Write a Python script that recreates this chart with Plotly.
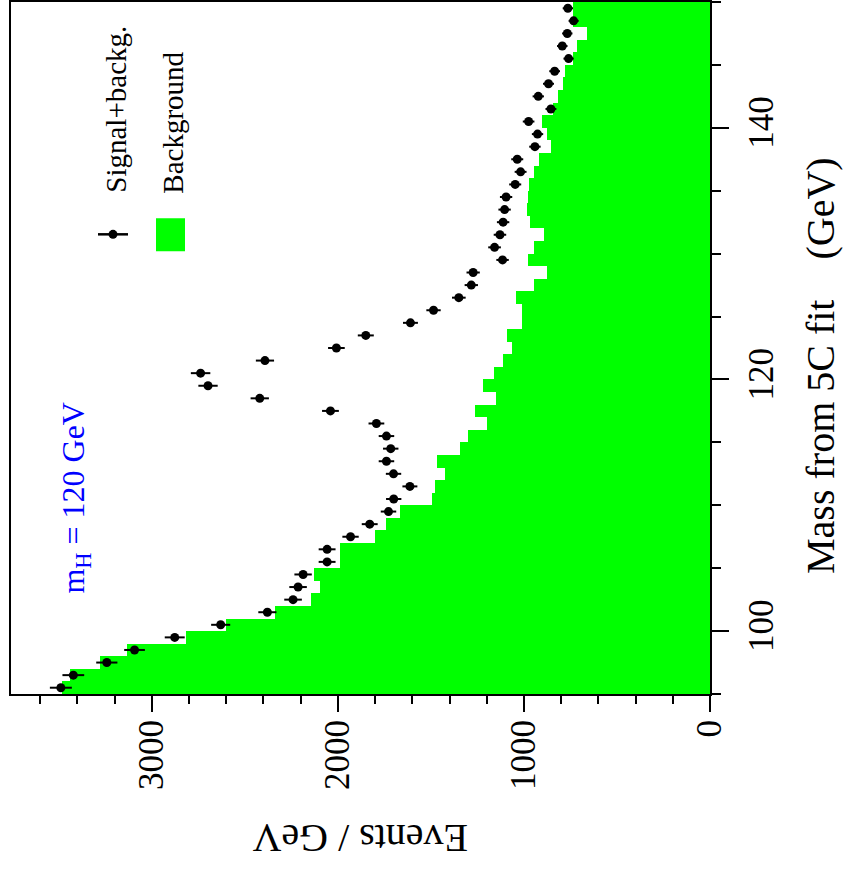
import numpy as np
import plotly.graph_objects as go

# bin lower edges (GeV), 1 GeV bins from 95 to 150
mass_low = list(range(95, 150))

background = [3481, 3442, 3281, 3132, 2818, 2603, 2340, 2146, 2098, 2128,
              1990, 1990, 1798, 1739, 1667, 1493, 1479, 1425, 1468, 1345,
              1303, 1201, 1262, 1151, 1218, 1160, 1112, 1062, 1093, 1013,
              1010, 1042, 945, 878, 976, 947, 890, 965, 986, 980,
              972, 945, 917, 855, 878, 902, 846, 819, 792, 778,
              735, 717, 660, 738, 735]

signal_plus_bkg = [3489, 3422, 3242, 3093, 2877, 2630, 2379, 2241, 2214, 2187,
                   2058, 2058, 1932, 1829, 1728, 1700, 1613, 1701, 1739, 1716,
                   1739, 1793, 2040, 2420, 2698, 2738, 2392, 2008, 1850, 1610,
                   1486, 1350, 1283, 1273, 1115, 1158, 1129, 1112, 1104, 1096,
                   1047, 1018, 1036, 941, 927, 975, 855, 923, 868, 835,
                   760, 794, 767, 733, 764]

x_tick_vals = [0, 1000, 2000, 3000]
y_tick_vals = [100, 120, 140]

centers = [m + 0.5 for m in mass_low]
errors = [float(np.sqrt(v)) for v in signal_plus_bkg]

W, H = 843, 869
L, R, T, B = 11, 710, 0, 694  # plot area in pixels


def px(xp):
    return (xp - L) / (R - L)


def py(yp):
    return (B - yp) / (B - T)


serif = '"Liberation Serif", "Times New Roman", Times, serif'

fig = go.Figure()
fig.add_trace(go.Bar(
    y=centers, x=background, orientation="h", width=1.0,
    marker=dict(color="#00ff00", line=dict(width=0)),
    showlegend=False,
))
fig.add_trace(go.Scatter(
    y=centers, x=signal_plus_bkg, mode="markers",
    marker=dict(color="black", size=9, symbol="circle"),
    error_x=dict(type="data", array=errors, color="black", thickness=2, width=0),
    showlegend=False,
))

fig.update_layout(
    width=W, height=H,
    margin=dict(l=L, r=W - R, t=T, b=H - B),
    paper_bgcolor="white", plot_bgcolor="white",
    bargap=0,
    font=dict(family=serif, color="black"),
    xaxis=dict(
        range=[3757, 0], tickvals=x_tick_vals,
        ticks="outside", ticklen=16, tickwidth=2, tickcolor="black",
        tickangle=-90, tickfont=dict(size=35, family=serif),
        ticklabelstandoff=-6,
        showline=True, linecolor="black", linewidth=2, mirror=True,
        showgrid=False, zeroline=False,
        minor=dict(dtick=200, tick0=0, ticks="outside", ticklen=8,
                   tickwidth=1.5, tickcolor="black", showgrid=False),
    ),
    yaxis=dict(
        range=[95, 150], side="right", tickvals=y_tick_vals,
        ticks="outside", ticklen=17, tickwidth=2, tickcolor="black",
        tickangle=-90, tickfont=dict(size=35, family=serif),
        ticklabelstandoff=2,
        showline=True, linecolor="black", linewidth=2, mirror=True,
        showgrid=False, zeroline=False,
        minor=dict(dtick=5, tick0=95, ticks="outside", ticklen=9,
                   tickwidth=1.5, tickcolor="black", showgrid=False),
    ),
)

annotations = [
    dict(text="Events / GeV", textangle=180, x=px(360), y=py(839),
         font=dict(size=40, family=serif)),
    dict(text="Mass from 5C fit\u00a0\u00a0\u00a0\u00a0(GeV)", textangle=-90, x=px(821), y=py(365),
         font=dict(size=40, family=serif)),
    dict(text="Signal+backg.", textangle=-90, x=px(116), y=py(108),
         font=dict(size=29, family=serif)),
    dict(text="Background", textangle=-90, x=px(173), y=py(121),
         font=dict(size=29, family=serif)),
    dict(text="m<sub>H</sub> = 120 GeV", textangle=-90, x=px(76), y=py(497),
         font=dict(size=32, family=serif, color="#0000ff")),
]
for a in annotations:
    a.update(xref="paper", yref="paper", showarrow=False,
             xanchor="center", yanchor="middle")
fig.update_layout(annotations=annotations)

shapes = [
    dict(type="rect", x0=px(156), x1=px(185), y0=py(250), y1=py(217),
         fillcolor="#00ff00", line=dict(width=0)),
    dict(type="line", x0=px(98), x1=px(128), y0=py(233), y1=py(233),
         line=dict(color="black", width=2.5)),
    dict(type="circle", x0=px(108.5), x1=px(117.5), y0=py(237.5), y1=py(228.5),
         fillcolor="black", line=dict(color="black", width=0)),
]
for s in shapes:
    s.update(xref="paper", yref="paper")
fig.update_layout(shapes=shapes)

fig.write_html("out.html")
